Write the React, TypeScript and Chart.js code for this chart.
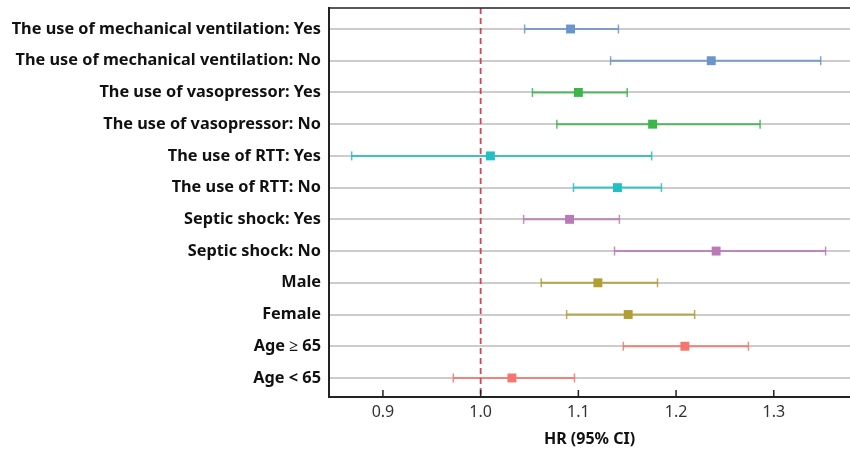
import React, { useEffect, useRef } from "react";
import { Chart, registerables } from "chart.js";

Chart.register(...registerables);

const categories = [
  "The use of mechanical ventilation: Yes",
  "The use of mechanical ventilation: No",
  "The use of vasopressor: Yes",
  "The use of vasopressor: No",
  "The use of RTT: Yes",
  "The use of RTT: No",
  "Septic shock: Yes",
  "Septic shock: No",
  "Male",
  "Female",
  "Age \u2265 65",
  "Age < 65",
];

const hrValues = [1.092, 1.236, 1.1, 1.176, 1.01, 1.14, 1.091, 1.241, 1.12, 1.151, 1.209, 1.032];
const lowerCI = [1.045, 1.133, 1.053, 1.078, 0.868, 1.095, 1.044, 1.137, 1.062, 1.088, 1.146, 0.972];
const upperCI = [1.141, 1.348, 1.15, 1.286, 1.175, 1.185, 1.142, 1.353, 1.181, 1.219, 1.274, 1.096];

const rowColors = [
  "#6a95cc", "#6a95cc",
  "#3db54a", "#3db54a",
  "#22bfc4", "#22bfc4",
  "#b97ab5", "#b97ab5",
  "#b09f33", "#b09f33",
  "#f4766f", "#f4766f",
];

const xTickValues = [0.9, 1.0, 1.1, 1.2, 1.3];
const referenceValue = 1.0;
const xAxisTitle = "HR (95% CI)";

function withAlpha(hex: string, a: number) {
  const r = parseInt(hex.slice(1, 3), 16);
  const g = parseInt(hex.slice(3, 5), 16);
  const b = parseInt(hex.slice(5, 7), 16);
  return `rgba(${r},${g},${b},${a})`;
}

const decorPlugin = {
  id: "decor",
  afterDatasetsDraw(chart: any) {
    const { ctx, chartArea, scales } = chart;
    const x = scales.x.getPixelForValue(referenceValue);
    ctx.save();
    ctx.strokeStyle = "rgba(204,50,72,0.9)";
    ctx.lineWidth = 1.8;
    ctx.setLineDash([6, 4]);
    ctx.beginPath();
    ctx.moveTo(x, chartArea.top);
    ctx.lineTo(x, chartArea.bottom);
    ctx.stroke();
    ctx.restore();
  },
  afterDraw(chart: any) {
    const { ctx, chartArea, scales } = chart;
    ctx.save();
    ctx.strokeStyle = "#222";
    ctx.lineWidth = 1.5;
    ctx.beginPath();
    ctx.moveTo(chartArea.left, chartArea.top);
    ctx.lineTo(chartArea.right, chartArea.top);
    ctx.stroke();
    scales.x.ticks.forEach((t: any) => {
      const px = scales.x.getPixelForValue(t.value);
      ctx.beginPath();
      ctx.moveTo(px, chartArea.bottom);
      ctx.lineTo(px, chartArea.bottom - 7);
      ctx.stroke();
    });
    ctx.restore();
  },
};

export default function App() {
  const canvasRef = useRef<HTMLCanvasElement | null>(null);

  useEffect(() => {
    if (!canvasRef.current) return;
    const datasets: any[] = categories.map((_, i) => ({
      type: "line",
      data: [
        { x: lowerCI[i], y: i },
        { x: upperCI[i], y: i },
      ],
      borderColor: withAlpha(rowColors[i], 0.85),
      borderWidth: 2,
      pointStyle: "line",
      pointRotation: 90,
      pointRadius: 4.5,
      pointBorderWidth: 1.5,
      pointBorderColor: withAlpha(rowColors[i], 0.85),
      pointBackgroundColor: withAlpha(rowColors[i], 0.85),
      fill: false,
    }));
    datasets.push({
      type: "scatter",
      data: hrValues.map((v, i) => ({ x: v, y: i })),
      pointStyle: "rect",
      pointRadius: 6.3,
      pointBorderWidth: 0,
      pointBackgroundColor: rowColors,
      pointBorderColor: rowColors,
    });

    const chart = new Chart(canvasRef.current, {
      type: "scatter",
      data: { datasets },
      plugins: [decorPlugin],
      options: {
        animation: false,
        responsive: true,
        maintainAspectRatio: false,
        layout: { autoPadding: false, padding: { top: 8, left: 0, right: 0, bottom: 0 } },
        plugins: { legend: { display: false }, tooltip: { enabled: false } },
        scales: {
          x: {
            type: "linear",
            min: 0.8448,
            max: 1.378,
            afterBuildTicks: (scale: any) => {
              scale.ticks = xTickValues.map((v) => ({ value: v }));
            },
            afterFit: (scale: any) => {
              scale.height = 53;
              scale.paddingLeft = 0;
              scale.paddingRight = 0;
            },
            grid: { drawOnChartArea: false, drawTicks: false },
            border: { display: true, color: "#222", width: 2 },
            ticks: {
              padding: 6,
              color: "#333",
              font: { family: "Noto Sans", size: 16 },
              callback: (v: any) => Number(v).toFixed(1),
            },
            title: {
              display: true,
              text: xAxisTitle,
              color: "#111",
              font: { family: "Noto Sans", size: 16, weight: "bold" },
              padding: { top: 0, bottom: 1 },
            },
          },
          y: {
            type: "linear",
            reverse: true,
            min: -0.662,
            max: 11.6,
            afterBuildTicks: (scale: any) => {
              scale.ticks = categories.map((_, i) => ({ value: i }));
            },
            afterFit: (scale: any) => {
              scale.width = 329;
              scale.paddingTop = 0;
              scale.paddingBottom = 0;
            },
            grid: { color: "#cccccc", lineWidth: 2, drawTicks: false },
            border: { display: true, color: "#222", width: 2 },
            ticks: {
              padding: 8,
              color: "#111",
              autoSkip: false,
              font: { family: "Noto Sans", size: 16.3, weight: "bold" },
              callback: (v: any) => categories[Math.round(Number(v))] ?? "",
            },
          },
        },
      },
    });
    return () => chart.destroy();
  }, []);

  return (
    <div style={{ position: "fixed", left: 0, top: 0, width: 850, height: 450, background: "#fff" }}>
      <canvas ref={canvasRef} />
    </div>
  );
}
